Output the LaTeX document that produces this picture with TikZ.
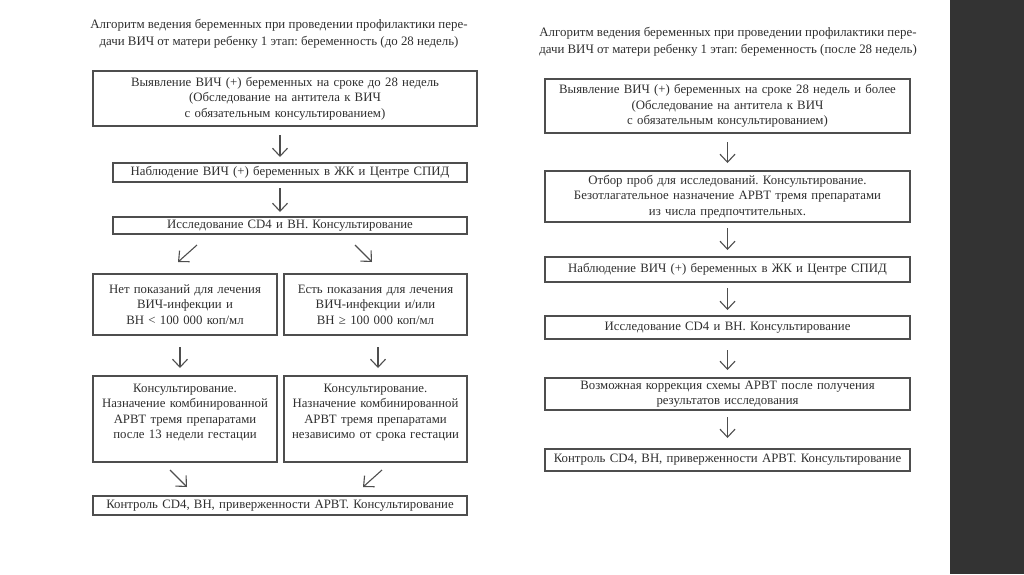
\documentclass[tikz,border=0pt]{standalone}
\usepackage{fontspec}
\setmainfont{Liberation Serif}
\usetikzlibrary{arrows.meta}
\definecolor{txt}{HTML}{2E2E2E}
\definecolor{frame}{HTML}{4E4E4E}
\definecolor{side}{HTML}{333333}
\frenchspacing
\begin{document}
\begin{tikzpicture}[x=1pt,y=-1pt,
    every node/.style={text=txt,font=\fontsize{12.8}{15.4}\selectfont},
    box/.style={draw=frame,line width=1.2pt,anchor=north west,align=center,
      inner sep=2pt,outer sep=0pt},
    arr/.style={draw=frame,line width=1.1pt,-{Straight Barb[length=8pt,width=15pt]}},
    down/.style={arr,shorten <=8pt,shorten >=7pt},
    title/.style={align=center,font=\fontsize{12.9}{17}\selectfont}]
  \useasboundingbox (0,0) rectangle (1024,574);
  \fill[side] (950,0) rectangle (1024,574);
  % left scheme: before 28 weeks
  \node[title] (lt) at (279,34)
    {Алгоритм ведения беременных при проведении профилактики пере-\\
     дачи ВИЧ от матери ребенку 1 этап: беременность (до 28 недель)};
  \node[box,minimum width=384pt,minimum height=55pt,text width=380pt] (l1) at (93,71)
    {Выявление ВИЧ (+) беременных на сроке до 28 недель\\
     (Обследование на антитела к ВИЧ\\
     с обязательным консультированием)};
  \node[box,minimum width=354pt,minimum height=19pt,text width=350pt] (l2) at (113,163)
    {Наблюдение ВИЧ (+) беременных в ЖК и Центре СПИД};
  \node[box,minimum width=354pt,minimum height=17pt,text width=350pt] (l3) at (113,217)
    {Исследование CD4 и ВН. Консультирование};
  \node[box,minimum width=184pt,minimum height=61pt,text width=180pt] (l4a) at (93,274)
    {Нет показаний для лечения\\ ВИЧ-инфекции и\\ ВН < 100 000 коп/мл};
  \node[box,minimum width=183pt,minimum height=61pt,text width=179pt] (l4b) at (284,274)
    {Есть показания для лечения\\ ВИЧ-инфекции и/или\\ ВН ≥ 100 000 коп/мл};
  \node[box,minimum width=184pt,minimum height=86pt,text width=180pt] (l5a) at (93,376)
    {Консультирование.\\ Назначение комбинированной\\ АРВТ тремя препаратами\\
     после 13 недели гестации\\ ~};
  \node[box,minimum width=183pt,minimum height=86pt,text width=179pt] (l5b) at (284,376)
    {Консультирование.\\ Назначение комбинированной\\ АРВТ тремя препаратами\\
     независимо от срока гестации\\ ~};
  \node[box,minimum width=374pt,minimum height=19pt,text width=370pt] (l6) at (93,496)
    {Контроль CD4, ВН, приверженности АРВТ. Консультирование};
  \draw[down,shorten <=9pt,shorten >=6pt] ([xshift=-5pt]l1.south) -- ([xshift=-10pt]l2.north);
  \draw[down,shorten <=6pt,shorten >=5pt] ([xshift=-10pt]l2.south) -- ([xshift=-10pt]l3.north);
  \draw[arr] ([xshift=-93pt,yshift=-11pt]l3.south) -- ([xshift=-7pt,yshift=12pt]l4a.north);
  \draw[arr] ([xshift=65pt,yshift=-11pt]l3.south) -- ([xshift=-3.5pt,yshift=12pt]l4b.north);
  \draw[down,shorten <=12pt,shorten >=8pt] ([xshift=-5pt]l4a.south) -- ([xshift=-5pt]l5a.north);
  \draw[down,shorten <=12pt,shorten >=8pt] ([xshift=2.5pt]l4b.south) -- ([xshift=2.5pt]l5b.north);
  \draw[arr] ([xshift=-15pt,yshift=-8pt]l5a.south) -- ([xshift=-93pt,yshift=9pt]l6.north);
  \draw[arr] ([xshift=6.5pt,yshift=-8pt]l5b.south) -- ([xshift=83pt,yshift=9pt]l6.north);
  % right scheme: after 28 weeks
  \node[title] (rt) at (728,42)
    {Алгоритм ведения беременных при проведении профилактики пере-\\
     дачи ВИЧ от матери ребенку 1 этап: беременность (после 28 недель)};
  \node[box,minimum width=365pt,minimum height=54pt,text width=361pt] (r1) at (545,79)
    {Выявление ВИЧ (+) беременных на сроке 28 недель и более\\
     (Обследование на антитела к ВИЧ\\
     с обязательным консультированием)};
  \node[box,minimum width=365pt,minimum height=51pt,text width=361pt] (r2) at (545,171)
    {Отбор проб для исследований. Консультирование.\\
     Безотлагательное назначение АРВТ тремя препаратами\\
     из числа предпочтительных.};
  \node[box,minimum width=365pt,minimum height=25pt,text width=361pt] (r3) at (545,257)
    {Наблюдение ВИЧ (+) беременных в ЖК и Центре СПИД};
  \node[box,minimum width=365pt,minimum height=23pt,text width=361pt] (r4) at (545,316)
    {Исследование CD4 и ВН. Консультирование};
  \node[box,minimum width=365pt,minimum height=32pt,text width=361pt] (r5) at (545,378)
    {Возможная коррекция схемы АРВТ после получения\\ результатов исследования};
  \node[box,minimum width=365pt,minimum height=22pt,text width=361pt] (r6) at (545,449)
    {Контроль CD4, ВН, приверженности АРВТ. Консультирование};
  \draw[down,shorten <=9pt,shorten >=8pt] (r1) -- (r2);
  \draw[down,shorten <=6pt,shorten >=7pt] (r2) -- (r3);
  \draw[down,shorten <=6pt,shorten >=6pt] (r3) -- (r4);
  \draw[down,shorten <=11pt,shorten >=8pt] (r4) -- (r5);
  \draw[down,shorten <=7pt,shorten >=11pt] (r5) -- (r6);
\end{tikzpicture}
\end{document}
